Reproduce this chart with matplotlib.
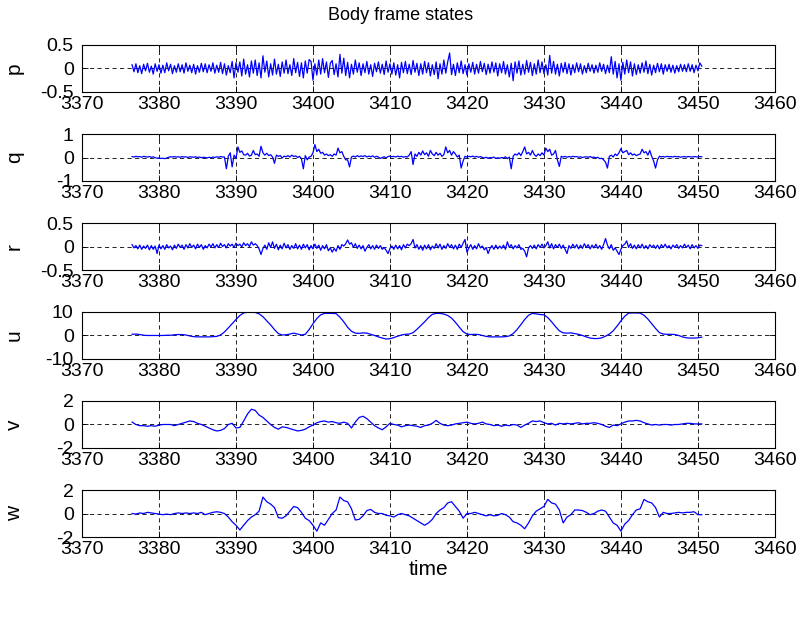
import numpy as np
import matplotlib.pyplot as plt

plt.rcParams['font.family'] = ['Liberation Sans', 'DejaVu Sans']
plt.rcParams['axes.unicode_minus'] = False

# body rates, sampled every 0.25 s from t0
t0 = 3376.5
p = [0.08,-0.07,0.10,-0.09,0.06,-0.11,0.09,-0.05,
     0.11,-0.08,0.05,-0.12,0.10,-0.06,0.08,-0.10,
     0.07,-0.09,0.12,-0.05,0.09,-0.11,0.06,-0.08,
     0.10,-0.07,0.08,-0.10,0.12,-0.06,0.07,-0.09,
     0.09,-0.12,0.06,-0.08,0.11,-0.07,0.10,-0.09,
     0.08,-0.06,0.12,-0.10,0.07,-0.08,0.13,-0.11,
     0.10,-0.14,0.06,-0.09,0.15,-0.20,0.12,-0.08,
     0.14,-0.16,0.20,-0.12,0.08,-0.18,0.16,-0.10,
     0.18,-0.15,0.12,-0.20,0.27,-0.08,0.16,-0.18,
     0.10,-0.14,0.20,-0.12,0.09,-0.17,0.14,-0.10,
     0.18,-0.11,0.08,-0.15,0.21,-0.09,0.13,-0.17,
     0.12,-0.20,0.16,-0.10,0.19,0.15,-0.25,0.10,
     -0.14,0.18,-0.12,0.21,-0.09,0.14,-0.19,0.11,
     0.17,-0.13,0.10,-0.18,0.30,-0.10,0.22,-0.15,
     0.13,-0.20,0.09,-0.12,0.18,-0.08,0.12,-0.15,
     0.10,-0.09,0.15,-0.12,0.08,-0.17,0.11,-0.07,
     0.14,-0.10,0.09,-0.13,0.16,-0.08,0.10,-0.12,
     0.12,-0.14,0.08,-0.20,0.13,-0.09,0.15,-0.11,
     0.09,-0.13,0.17,-0.08,0.11,-0.15,0.10,-0.12,
     0.15,-0.09,0.12,-0.16,0.08,-0.13,0.14,-0.22,
     0.10,-0.12,0.18,-0.10,0.14,0.33,-0.13,0.09,
     -0.15,0.12,-0.09,0.16,-0.11,0.08,-0.14,0.10,
     -0.08,0.13,-0.12,0.09,-0.10,0.15,-0.07,0.11,
     -0.13,0.09,-0.10,0.14,-0.08,0.12,-0.16,0.10,
     -0.09,0.15,-0.12,0.08,-0.18,0.11,-0.26,0.14,
     -0.10,0.16,-0.14,0.09,-0.12,0.17,-0.08,0.13,
     -0.15,0.10,-0.12,0.18,-0.09,0.14,-0.11,0.08,
     -0.14,0.28,-0.10,0.15,-0.12,0.09,-0.16,0.11,
     -0.08,0.13,-0.11,0.10,-0.14,0.08,-0.09,0.12,
     -0.07,0.10,-0.12,0.06,-0.09,0.11,-0.06,0.08,
     -0.10,0.07,-0.08,0.12,-0.06,0.09,-0.11,0.07,
     -0.09,0.25,-0.12,0.15,-0.20,0.10,-0.25,0.13,
     -0.12,0.18,-0.09,0.14,-0.16,0.10,-0.13,0.08,
     -0.10,0.12,-0.08,0.16,-0.11,0.09,-0.14,0.07,
     -0.09,0.11,-0.07,0.10,-0.12,0.08,-0.06,0.09,
     -0.08,0.07,-0.10,0.06,-0.07,0.09,-0.06,0.08,
     -0.07,0.10,-0.06,0.08,-0.09,0.07,-0.05,0.12,
     0.05]

q = [0.04,0.02,0.05,0.03,0.04,0.01,0.05,0.03,
     0.02,0.04,0.01,0.03,-0.01,-0.03,-0.02,-0.04,
     -0.03,-0.05,-0.02,0.01,0.03,0.02,0.04,0.02,
     0.03,0.01,0.04,0.02,0.03,0.00,0.03,0.02,
     0.01,0.03,0.00,0.02,-0.01,0.01,0.00,-0.02,
     0.01,-0.01,0.02,0.00,0.03,0.01,0.04,0.02,
     0.02,-0.48,0.05,0.20,-0.40,0.10,-0.05,0.45,
     0.22,0.28,0.12,0.10,0.18,0.06,0.10,0.30,
     0.12,0.15,0.05,0.48,0.20,0.10,0.18,0.08,
     0.12,0.02,-0.25,0.10,0.05,0.08,-0.02,0.06,
     0.03,0.08,0.02,0.10,0.04,0.07,0.00,0.05,
     -0.05,-0.48,0.08,-0.10,0.02,0.05,0.20,0.55,
     0.25,0.35,0.18,0.22,0.10,0.15,0.08,0.12,
     0.05,0.15,0.10,0.40,0.20,0.25,0.05,-0.10,
     -0.10,-0.40,0.02,0.06,0.02,0.08,0.03,0.07,
     0.04,0.08,0.02,0.06,0.03,0.07,0.01,0.05,
     0.02,-0.04,0.00,0.03,-0.02,0.04,0.06,0.03,
     0.05,0.02,0.06,0.03,0.05,0.01,0.04,0.02,
     0.10,0.25,-0.30,0.15,0.05,0.22,0.10,0.28,
     0.12,0.20,0.05,0.30,0.15,0.08,0.22,0.10,
     0.18,0.05,0.12,0.45,0.20,0.30,0.10,0.25,
     0.15,0.02,0.10,-0.45,-0.15,0.05,0.02,0.05,
     0.03,0.06,0.02,0.05,0.01,0.04,0.00,-0.02,
     0.01,-0.03,0.00,-0.02,0.02,-0.04,-0.01,-0.03,
     0.00,-0.02,0.03,-0.05,0.02,-0.48,0.05,0.15,
     0.10,0.20,0.08,0.25,0.45,0.15,0.22,0.10,
     0.30,0.12,0.05,0.15,0.08,0.20,0.10,0.40,
     0.25,0.35,0.10,0.15,0.30,-0.10,-0.38,0.05,
     0.02,0.05,0.01,0.04,0.02,0.05,0.03,0.04,
     0.01,0.03,0.00,0.02,0.03,0.01,0.04,0.00,
     0.02,-0.02,0.01,-0.05,-0.03,-0.10,-0.20,-0.45,
     0.05,0.10,0.02,0.15,0.08,0.20,0.38,0.20,
     0.25,0.30,0.12,0.20,0.10,0.15,0.08,0.12,
     0.15,0.35,0.20,0.25,0.10,0.30,0.05,-0.15,
     -0.45,-0.10,0.05,0.03,0.04,0.02,0.05,0.03,
     0.04,0.02,0.05,0.03,0.04,0.01,0.03,0.04,
     0.02,0.04,0.03,0.02,0.04,0.03,0.02,0.04,
     0.03]

r = [0.04,-0.03,0.02,-0.05,0.03,-0.06,0.01,-0.04,
     0.03,-0.07,0.02,-0.06,0.01,-0.15,0.03,-0.05,
     0.02,-0.06,0.04,-0.03,0.01,-0.07,0.03,-0.04,
     0.05,-0.02,0.03,-0.06,0.04,-0.03,0.06,-0.02,
     0.03,-0.05,0.05,-0.02,0.04,-0.06,0.02,-0.03,
     0.05,-0.01,0.06,-0.03,0.04,-0.02,0.07,0.00,
     0.04,-0.03,0.06,0.01,0.05,-0.02,0.07,0.02,
     0.05,-0.01,0.08,0.02,0.06,0.00,0.10,0.03,
     0.06,0.02,-0.05,-0.17,-0.04,0.03,-0.06,0.08,
     -0.02,0.10,-0.04,0.05,-0.07,0.03,-0.05,0.07,
     -0.03,0.04,-0.06,0.02,-0.04,0.06,-0.05,0.03,
     -0.06,0.05,-0.03,0.04,-0.07,0.02,-0.05,0.05,
     -0.04,0.03,-0.08,0.02,-0.05,0.04,-0.09,-0.03,
     -0.12,-0.04,-0.10,0.02,-0.06,0.04,0.01,0.06,
     0.14,0.05,0.08,-0.02,0.06,-0.04,0.03,-0.05,
     0.02,-0.10,-0.02,0.04,-0.05,0.02,-0.06,0.03,
     -0.04,0.02,-0.06,-0.02,-0.08,-0.15,-0.04,0.01,
     -0.06,0.03,-0.05,0.02,-0.07,0.04,-0.03,0.05,
     0.02,0.06,0.15,-0.03,0.04,-0.06,0.02,-0.08,
     0.03,-0.05,0.04,-0.07,0.01,-0.04,0.06,-0.03,
     0.05,-0.06,0.02,-0.04,0.06,-0.02,0.04,-0.05,
     0.03,-0.06,0.05,-0.02,0.07,0.15,-0.12,-0.03,
     0.04,-0.06,0.02,-0.05,0.06,-0.03,0.01,-0.07,
     -0.02,-0.15,-0.04,0.02,-0.06,0.03,-0.05,0.01,
     -0.04,0.03,-0.06,0.10,-0.02,0.04,-0.05,0.02,
     -0.03,0.04,-0.06,-0.04,-0.10,-0.22,-0.03,0.02,
     -0.04,0.03,-0.05,0.04,-0.02,0.05,-0.03,0.02,
     0.10,-0.03,0.06,-0.05,0.04,-0.02,0.05,-0.04,
     0.03,-0.06,-0.15,0.02,-0.04,0.05,-0.03,0.04,
     -0.05,0.03,-0.04,0.06,-0.02,0.04,-0.05,0.03,
     -0.03,0.05,-0.04,0.02,-0.06,0.04,0.17,0.03,
     -0.05,0.04,-0.08,-0.03,-0.10,-0.17,-0.06,0.02,
     0.05,0.12,-0.02,0.06,-0.04,0.03,-0.05,0.04,
     -0.03,0.05,-0.04,0.02,-0.05,0.04,-0.02,0.03,
     -0.04,0.03,-0.05,0.04,-0.02,0.05,-0.03,0.02,
     -0.05,0.03,-0.02,0.04,-0.04,0.02,-0.03,0.05,
     -0.02,0.03,-0.05,0.04,-0.03,0.02,-0.04,0.03,
     0.02]

# body velocities, sampled every 0.5 s from t0
u = [0.5,0.6,0.4,0.1,0.0,0.0,0.0,0.0,0.0,0.1,
     0.1,0.3,0.4,0.4,0.2,-0.2,-0.5,-0.6,-0.6,-0.6,
     -0.6,-0.5,-0.4,0.2,1.5,3.2,5.0,6.8,8.5,9.6,
     9.9,9.9,9.8,9.2,8.0,6.2,4.5,2.5,0.8,0.2,
     0.3,0.6,1.0,0.6,0.2,0.5,2.5,5.0,7.2,8.8,
     9.4,9.4,9.4,9.3,7.8,5.8,3.5,1.8,1.0,0.9,
     1.1,1.0,0.5,0.0,-0.6,-1.1,-1.5,-1.4,-0.9,-0.3,
     0.2,0.5,0.6,1.2,2.6,4.2,5.8,7.6,9.0,9.4,
     9.4,9.1,8.5,7.4,5.6,3.6,1.6,0.6,0.4,0.5,
     0.4,0.0,-0.4,-0.6,-0.6,-0.6,-0.6,-0.5,-0.2,0.8,
     2.5,4.6,6.8,8.6,9.4,9.2,8.9,8.8,7.6,5.8,
     3.8,2.0,1.1,1.0,1.1,0.8,0.5,0.0,-0.6,-1.1,
     -1.3,-1.3,-1.0,-0.3,0.6,2.0,4.0,6.2,8.2,9.5,
     9.6,9.6,9.5,8.6,7.0,5.0,3.0,1.2,0.6,0.5,
     0.5,0.4,0.0,-0.6,-1.0,-1.1,-1.1,-1.0,-0.7]

v = [0.2,0.0,-0.1,-0.1,-0.15,-0.1,-0.15,-0.05,0.0,0.0,
     0.0,-0.1,0.0,0.1,0.2,0.3,0.25,0.1,0.0,-0.15,
     -0.3,-0.45,-0.55,-0.5,-0.35,0.0,0.1,-0.3,-0.25,0.3,
     0.9,1.3,1.2,0.8,0.6,0.3,0.0,-0.25,-0.4,-0.2,
     -0.25,-0.35,-0.45,-0.55,-0.5,-0.4,-0.2,-0.05,0.15,0.25,
     0.3,0.2,0.25,0.15,0.1,0.2,0.1,-0.3,0.2,0.6,
     0.7,0.5,0.2,-0.1,-0.3,-0.45,-0.2,0.1,0.0,-0.05,
     -0.2,-0.1,-0.05,-0.1,-0.15,-0.25,-0.1,-0.05,0.1,0.35,
     0.1,-0.05,-0.1,-0.05,0.05,0.1,0.15,0.2,0.1,0.05,
     0.1,0.2,0.05,0.0,-0.1,-0.05,-0.15,-0.05,-0.1,0.0,
     -0.05,-0.25,-0.05,0.1,0.3,0.25,0.3,0.15,0.05,0.1,
     -0.05,0.1,0.05,0.1,0.05,0.1,0.15,0.05,0.1,0.1,
     0.15,0.1,0.0,-0.15,-0.25,-0.05,-0.1,0.05,0.2,0.3,
     0.3,0.35,0.3,0.15,0.05,-0.05,0.0,-0.05,0.0,0.0,
     -0.05,0.0,0.0,0.05,0.1,0.1,0.05,0.05,0.05]

w = [0.0,-0.05,0.05,0.0,0.1,0.05,0.0,-0.05,-0.1,-0.05,
     -0.1,0.0,0.05,0.0,0.05,0.0,0.05,0.0,0.1,-0.1,
     0.0,0.1,0.15,0.1,0.0,-0.3,-0.7,-1.0,-1.4,-1.0,
     -0.6,-0.3,-0.1,0.2,1.4,1.0,0.8,0.5,-0.35,-0.4,
     -0.2,0.2,0.6,0.5,0.1,-0.4,-0.6,-1.0,-1.5,-0.8,
     -1.0,-0.5,0.0,0.3,1.4,1.1,1.0,0.4,-0.55,-0.5,
     -0.2,0.25,0.35,0.1,0.0,0.0,-0.15,-0.2,-0.3,-0.1,
     0.0,-0.1,-0.2,-0.4,-0.6,-0.8,-1.0,-0.8,-0.5,0.0,
     0.3,0.5,0.9,1.0,0.6,0.2,-0.4,0.0,0.0,0.1,
     0.0,-0.1,-0.2,-0.1,-0.2,-0.15,0.0,-0.1,-0.3,-0.7,
     -0.8,-1.0,-1.3,-0.8,-0.2,0.2,0.4,0.6,1.2,0.9,
     0.8,0.3,-0.8,-0.3,-0.1,0.3,0.3,0.25,0.1,-0.1,
     0.0,0.2,0.3,0.2,-0.3,-0.8,-1.0,-1.5,-0.9,-0.6,
     -0.1,0.3,0.4,1.2,1.0,0.9,0.5,-0.3,0.1,0.0,
     0.0,0.05,0.1,0.05,0.1,0.1,0.15,-0.1,-0.1]

names = ['p', 'q', 'r', 'u', 'v', 'w']
series = [p, q, r, u, v, w]
steps = [0.25, 0.25, 0.25, 0.5, 0.5, 0.5]
ylims = [0.5, 1, 0.5, 10, 2, 2]
ylabels_txt = [['-0.5', '0', '0.5'], ['-1', '0', '1'], ['-0.5', '0', '0.5'],
               ['-10', '0', '10'], ['-2', '0', '2'], ['-2', '0', '2']]
xticks = list(range(3370, 3461, 10))

fig = plt.figure(figsize=(8.01, 6.30), dpi=100)

left, width = 0.1024, 0.865
height = 0.0746
bottoms = [0.854, 0.7127, 0.5714, 0.4302, 0.2889, 0.1476]

for i in range(6):
    ax = fig.add_axes([left, bottoms[i], width, height])
    y = np.array(series[i])
    t = t0 + steps[i] * np.arange(len(y))
    ax.plot(t, y, color='b', linewidth=0.9)
    ax.set_xlim(3370, 3460)
    ax.set_ylim(-ylims[i], ylims[i])
    ax.set_xticks(xticks)
    ax.set_xticklabels([str(x) for x in xticks])
    ax.set_yticks([-ylims[i], 0, ylims[i]])
    ax.set_yticklabels(ylabels_txt[i])
    ax.tick_params(direction='in', top=True, right=True, length=4,
                   labelsize=14, width=0.6)
    ax.tick_params(axis='y', pad=6)
    ax.tick_params(axis='x', pad=3)
    ax.grid(True, color='k', linestyle=(0, (5, 4)), linewidth=0.6)
    for s in ax.spines.values():
        s.set_linewidth(0.8)
    ax.set_ylabel(names[i], fontsize=15)
    ax.yaxis.set_label_coords(-0.084, 0.5)
    if i == 5:
        ax.set_xlabel('time', fontsize=15, labelpad=1)

fig.text(401 / 801, 1 - 15 / 630, 'Body frame states', fontsize=13,
         ha='center', va='center')

fig.savefig('out.png', dpi=100)
